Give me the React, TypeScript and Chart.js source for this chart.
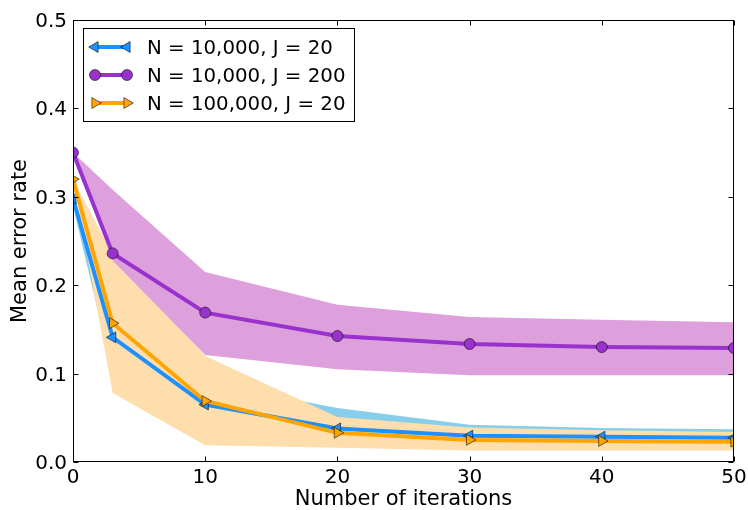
import React, { useEffect, useRef } from 'react';
import { Chart, registerables } from 'chart.js';

Chart.register(...registerables);

// ---- Data ----
const iterations = [0, 3, 10, 20, 30, 40, 50];
const seriesLabels = ['N = 10,000, J = 20', 'N = 10,000, J = 200', 'N = 100,000, J = 20'];

const meanJ20 = [0.298, 0.141, 0.065, 0.038, 0.0298, 0.0287, 0.0275];
const lowJ20 = [0.29, 0.1, 0.045, 0.025, 0.02, 0.019, 0.018];
const highJ20 = [0.3, 0.19, 0.09, 0.061, 0.042, 0.0385, 0.037];

const meanJ200 = [0.35, 0.236, 0.169, 0.1425, 0.1335, 0.13, 0.129];
const lowJ200 = [0.35, 0.228, 0.121, 0.105, 0.098, 0.098, 0.098];
const highJ200 = [0.35, 0.308, 0.215, 0.178, 0.164, 0.161, 0.158];

const meanN100k = [0.32, 0.157, 0.069, 0.033, 0.025, 0.0238, 0.023];
const lowN100k = [0.32, 0.078, 0.019, 0.016, 0.013, 0.013, 0.013];
const highN100k = [0.32, 0.235, 0.12, 0.051, 0.039, 0.036, 0.034];

const xTicks = [0, 10, 20, 30, 40, 50];
const yTicks = [0, 0.1, 0.2, 0.3, 0.4, 0.5];
const xTickLabels = ['0', '10', '20', '30', '40', '50'];
const yTickLabels = ['0.0', '0.1', '0.2', '0.3', '0.4', '0.5'];
const xTitle = 'Number of iterations';
const yTitle = 'Mean error rate';

const lineColors = ['#1E90FF', '#9932CC', '#FFA500'];
const fillColors = ['#87CEEB', '#DDA0DD', '#FFDEAD'];
const FONT = "'DejaVu Sans', sans-serif";

const pts = (arr: number[]) => iterations.map((x, i) => ({ x, y: arr[i] }));

function drawMarker(ctx: CanvasRenderingContext2D, kind: string, x: number, y: number, fill: string) {
  ctx.save();
  ctx.fillStyle = fill;
  ctx.strokeStyle = 'rgba(0,0,0,0.55)';
  ctx.lineWidth = 1;
  ctx.beginPath();
  if (kind === 'circle') {
    ctx.arc(x, y, 5.5, 0, Math.PI * 2);
  } else {
    const r = 6.3;
    const rot = kind === 'left' ? -Math.PI / 2 : Math.PI / 2;
    for (let k = 0; k < 3; k++) {
      const a = rot + (k * 2 * Math.PI) / 3;
      const px = x + Math.sin(a) * r;
      const py = y - Math.cos(a) * r;
      if (k === 0) ctx.moveTo(px, py);
      else ctx.lineTo(px, py);
    }
    ctx.closePath();
  }
  ctx.fill();
  ctx.stroke();
  ctx.restore();
}

const decorPlugin = {
  id: 'mplDecor',
  afterDraw(chart: any) {
    const { ctx, chartArea: a, scales } = chart;
    const xs = scales.x;
    const ys = scales.y;
    ctx.save();
    const L = Math.round(a.left) + 0.5;
    const R = Math.round(a.right) - 0.5;
    const T = Math.round(a.top) + 0.5;
    const B = Math.round(a.bottom) - 0.5;
    ctx.strokeStyle = '#000';
    ctx.lineWidth = 1;
    ctx.beginPath();
    for (const v of xTicks) {
      const px = Math.round(xs.getPixelForValue(v)) + 0.5;
      ctx.moveTo(px, B);
      ctx.lineTo(px, B - 5);
      ctx.moveTo(px, T);
      ctx.lineTo(px, T + 5);
    }
    for (const v of yTicks) {
      const py = Math.round(ys.getPixelForValue(v)) + 0.5;
      ctx.moveTo(L, py);
      ctx.lineTo(L + 5, py);
      ctx.moveTo(R, py);
      ctx.lineTo(R - 5, py);
    }
    ctx.stroke();
    ctx.strokeRect(L, T, R - L, B - T);

    // tick labels
    ctx.fillStyle = '#000';
    ctx.font = `20px ${FONT}`;
    ctx.textBaseline = 'alphabetic';
    ctx.textAlign = 'center';
    xTicks.forEach((v, i) => ctx.fillText(xTickLabels[i], xs.getPixelForValue(v), a.bottom + 21));
    ctx.textAlign = 'right';
    yTicks.forEach((v, i) => ctx.fillText(yTickLabels[i], a.left - 6, ys.getPixelForValue(v) + 7));

    // axis titles
    ctx.font = `21px ${FONT}`;
    ctx.textAlign = 'center';
    ctx.fillText(xTitle, (a.left + a.right) / 2, 505);
    ctx.save();
    ctx.translate(26, (a.top + a.bottom) / 2);
    ctx.rotate(-Math.PI / 2);
    ctx.fillText(yTitle, 0, 0);
    ctx.restore();

    // legend
    const bx = 83.5, by = 28.5, bw = 271, bh = 93;
    ctx.fillStyle = '#fff';
    ctx.fillRect(bx, by, bw, bh);
    ctx.strokeStyle = '#000';
    ctx.strokeRect(bx, by, bw, bh);
    const kinds = ['left', 'circle', 'right'];
    ctx.font = `19.8px ${FONT}`;
    ctx.textAlign = 'left';
    for (let i = 0; i < 3; i++) {
      const cy = 47 + i * 28;
      ctx.strokeStyle = lineColors[i];
      ctx.lineWidth = 4;
      ctx.beginPath();
      ctx.moveTo(95, cy);
      ctx.lineTo(127, cy);
      ctx.stroke();
      drawMarker(ctx, kinds[i], 95, cy, lineColors[i]);
      drawMarker(ctx, kinds[i], 127, cy, lineColors[i]);
      ctx.fillStyle = '#000';
      ctx.fillText(seriesLabels[i], 147, cy + 6.8);
    }
    ctx.restore();
  },
};

export default function App() {
  const ref = useRef<HTMLCanvasElement | null>(null);
  useEffect(() => {
    if (!ref.current) return;
    const lineDs = (label: string, data: number[], i: number, style: string, rot: number, order: number) => ({
      label,
      data: pts(data),
      borderColor: lineColors[i],
      backgroundColor: lineColors[i],
      borderWidth: 4,
      pointStyle: style,
      pointRotation: rot,
      pointRadius: style === 'circle' ? 5.5 : 6.3,
      pointBackgroundColor: lineColors[i],
      pointBorderColor: 'rgba(0,0,0,0.55)',
      pointBorderWidth: 1,
      fill: false,
      tension: 0,
      order,
      clip: 0,
    });
    const bandDs = (data: number[], i: number, order: number, fill: any) => ({
      label: '',
      data: pts(data),
      borderColor: 'rgba(0,0,0,0)',
      backgroundColor: fillColors[i],
      borderWidth: 0,
      pointRadius: 0,
      fill,
      tension: 0,
      order,
      clip: 0,
    });
    const chart = new Chart(ref.current, {
      type: 'line',
      data: {
        datasets: [
          lineDs(seriesLabels[0], meanJ20, 0, 'triangle', -90, 3),
          lineDs(seriesLabels[1], meanJ200, 1, 'circle', 0, 2),
          lineDs(seriesLabels[2], meanN100k, 2, 'triangle', 90, 1),
          bandDs(lowJ20, 0, 30, false),
          bandDs(highJ20, 0, 30, '-1'),
          bandDs(lowN100k, 2, 20, false),
          bandDs(highN100k, 2, 20, '-1'),
          bandDs(lowJ200, 1, 10, false),
          bandDs(highJ200, 1, 10, '-1'),
        ] as any,
      },
      options: {
        animation: false,
        responsive: false,
        devicePixelRatio: 1,
        layout: { padding: { top: 20, right: 14, left: 0, bottom: 0 } },
        plugins: { legend: { display: false }, tooltip: { enabled: false } },
        scales: {
          x: {
            type: 'linear',
            min: 0,
            max: 50,
            grid: { display: false },
            border: { display: false },
            ticks: { display: false, stepSize: 10 },
            afterFit: (s: any) => { s.height = 48; },
          },
          y: {
            type: 'linear',
            min: 0,
            max: 0.5,
            grid: { display: false },
            border: { display: false },
            ticks: { display: false, stepSize: 0.1 },
            afterFit: (s: any) => { s.width = 73; },
          },
        },
      } as any,
      plugins: [decorPlugin],
    });
    return () => chart.destroy();
  }, []);
  return (
    <div style={{ position: 'fixed', left: 0, top: 0, width: 748, height: 510, background: '#fff' }}>
      <canvas ref={ref} width={748} height={510} />
    </div>
  );
}
